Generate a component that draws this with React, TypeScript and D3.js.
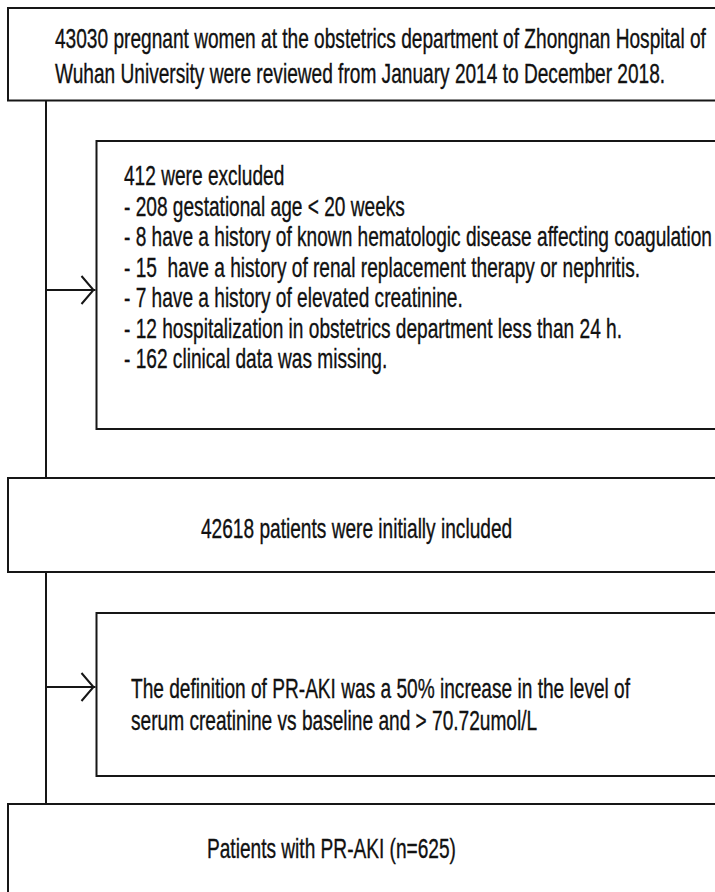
import * as d3 from 'd3';
import React from 'react';

const W = 715;
const H = 892;

// box texts, one entry per line
const screeningLines = [
  "43030 pregnant women at the obstetrics department of Zhongnan Hospital of",
  "Wuhan University were reviewed from January 2014 to December 2018.",
];
const exclusionLines = [
  "412 were excluded",
  "- 208 gestational age < 20 weeks",
  "- 8 have a history of known hematologic disease affecting coagulation",
  "- 15  have a history of renal replacement therapy or nephritis.",
  "- 7 have a history of elevated creatinine.",
  "- 12 hospitalization in obstetrics department less than 24 h.",
  "- 162 clinical data was missing.",
];
const includedLines = ["42618 patients were initially included"];
const definitionLines = [
  "The definition of PR-AKI was a 50% increase in the level of",
  "serum creatinine vs baseline and > 70.72umol/L",
];
const outcomeLines = ["Patients with PR-AKI (n=625)"];

// layout
const FONT = 27;
const SX = 0.708; // the figure's lettering is horizontally condensed
const STROKE = "#161616";
const TRUNK_X = 46;
const SIDE_X = 96.5;

interface Box {
  lines: string[];
  x: number;
  y: number;
  h: number;
  textX: number;
  firstBaseline: number;
  lineGap: number;
}

const boxes: Box[] = [
  { lines: screeningLines, x: 8, y: 8, h: 92.5, textX: 55, firstBaseline: 48, lineGap: 35 },
  { lines: exclusionLines, x: SIDE_X, y: 141, h: 288, textX: 124, firstBaseline: 185, lineGap: 30.5 },
  { lines: includedLines, x: 8, y: 478, h: 94, textX: 201, firstBaseline: 538, lineGap: 0 },
  { lines: definitionLines, x: SIDE_X, y: 613, h: 163, textX: 131, firstBaseline: 698, lineGap: 32 },
  { lines: outcomeLines, x: 8, y: 804, h: 120, textX: 207, firstBaseline: 858, lineGap: 0 },
];

const arrowYs = [290, 687];

const line = d3.line<[number, number]>();

export default function App() {
  const trunk = line([[TRUNK_X, 100], [TRUNK_X, 804]]);

  return (
    <svg
      width={W}
      height={H}
      style={{ position: 'absolute', left: 0, top: 0, background: '#fff' }}
      fontFamily="'Liberation Sans', Arial, sans-serif"
    >
      <rect width={W} height={H} fill="#fff" />
      <path d={trunk ?? ''} stroke={STROKE} strokeWidth={2} fill="none" />

      {arrowYs.map((y, i) => (
        <g key={i} stroke={STROKE} strokeWidth={2} fill="none">
          <path d={line([[TRUNK_X, y], [SIDE_X - 1, y]]) ?? ''} />
          <path d={line([[SIDE_X - 15, y - 14], [SIDE_X - 3, y], [SIDE_X - 15, y + 14]]) ?? ''} />
        </g>
      ))}

      {boxes.map((b, i) => (
        <g key={i}>
          <rect
            x={b.x}
            y={b.y}
            width={W + 40 - b.x}
            height={b.h}
            fill="#fff"
            stroke={STROKE}
            strokeWidth={2}
          />
          {b.lines.map((t, j) => (
            <text
              key={j}
              transform={`translate(${b.textX},${b.firstBaseline + j * b.lineGap}) scale(${SX},1)`}
              fontSize={FONT}
              fill="#111"
              stroke="#111"
              strokeWidth={0.35}
              style={{ whiteSpace: 'pre' }}
            >
              {t}
            </text>
          ))}
        </g>
      ))}
    </svg>
  );
}
